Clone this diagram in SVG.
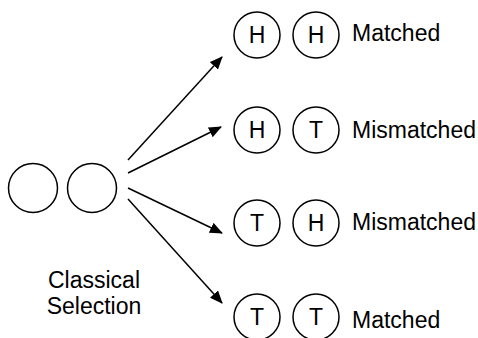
<svg xmlns="http://www.w3.org/2000/svg" width="478" height="338" viewBox="0 0 478 338">
<defs>
<style>
.c{fill:#fff;stroke:#000;stroke-width:1.5}
.t{font-family:"Liberation Sans",Arial,sans-serif;font-size:23px;fill:#000}
.m{text-anchor:middle}
.a{stroke:#000;stroke-width:1.5;fill:none;marker-end:url(#ah)}
</style>
<marker id="ah" markerWidth="13" markerHeight="11" viewBox="0 0 13 11" refX="12" refY="5.5" orient="auto" markerUnits="userSpaceOnUse">
<path d="M0,0 L13,5.5 L0,11 z" fill="#000"/>
</marker>
</defs>
<rect width="478" height="338" fill="#fff"/>
<g id="connectors">
<line class="a" x1="128" y1="160" x2="222" y2="57"/>
<line class="a" x1="128" y1="173" x2="221" y2="127"/>
<line class="a" x1="128" y1="188" x2="222" y2="233"/>
<line class="a" x1="128" y1="199" x2="222" y2="303"/>
</g>
<g id="start">
<circle class="c" cx="33" cy="188" r="24.5"/>
<circle class="c" cx="92" cy="188" r="24.5"/>
<text class="t m" x="94" y="288">Classical</text>
<text class="t m" x="94" y="314">Selection</text>
</g>
<g id="hh">
<circle class="c" cx="257" cy="35" r="23"/>
<text class="t m" x="257" y="43">H</text>
<circle class="c" cx="316" cy="35" r="23"/>
<text class="t m" x="316" y="43">H</text>
<text class="t" x="352" y="41">Matched</text>
</g>
<g id="ht">
<circle class="c" cx="257" cy="130" r="23"/>
<text class="t m" x="257" y="138">H</text>
<circle class="c" cx="316" cy="130" r="23"/>
<text class="t m" x="316" y="138">T</text>
<text class="t" x="352" y="138">Mismatched</text>
</g>
<g id="th">
<circle class="c" cx="257" cy="223" r="23"/>
<text class="t m" x="257" y="231">T</text>
<circle class="c" cx="316" cy="223" r="23"/>
<text class="t m" x="316" y="231">H</text>
<text class="t" x="352" y="230">Mismatched</text>
</g>
<g id="tt">
<circle class="c" cx="257" cy="317" r="23"/>
<text class="t m" x="257" y="325">T</text>
<circle class="c" cx="316" cy="317" r="23"/>
<text class="t m" x="316" y="325">T</text>
<text class="t" x="352" y="328">Matched</text>
</g>
</svg>
